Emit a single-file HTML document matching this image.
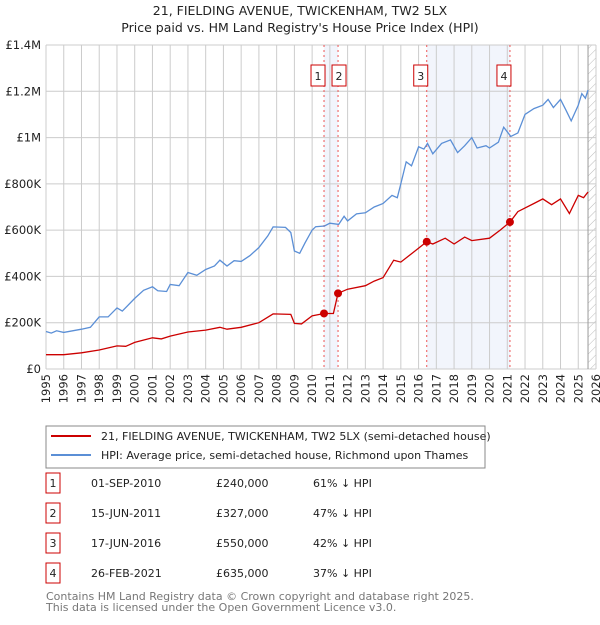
<!DOCTYPE html>
<html><head><meta charset="utf-8"><style>
body{margin:0;background:#fff;font-family:"Liberation Sans","DejaVu Sans",sans-serif;}
svg text{font-family:"DejaVu Sans","Liberation Sans",sans-serif;}
</style></head><body>
<svg width="600" height="620" xmlns="http://www.w3.org/2000/svg">
<defs><pattern id="hatch" width="6" height="6" patternUnits="userSpaceOnUse" patternTransform="rotate(45)"><line x1="0" y1="0" x2="0" y2="6" stroke="#bbb" stroke-width="1"/></pattern></defs>
<text x="300" y="15" text-anchor="middle" font-size="12.5" fill="#222">21, FIELDING AVENUE, TWICKENHAM, TW2 5LX</text>
<text x="300" y="32" text-anchor="middle" font-size="12.5" fill="#222">Price paid vs. HM Land Registry's House Price Index (HPI)</text>
<g id="plot"></g>
<rect x="46" y="426" width="439" height="42" fill="none" stroke="#888"/>
<line x1="51" y1="436" x2="91" y2="436" stroke="#cc0000" stroke-width="2"/>
<text x="101" y="440" font-size="11" fill="#222">21, FIELDING AVENUE, TWICKENHAM, TW2 5LX (semi-detached house)</text>
<line x1="51" y1="455" x2="91" y2="455" stroke="#5b8fd6" stroke-width="2"/>
<text x="101" y="459" font-size="11" fill="#222">HPI: Average price, semi-detached house, Richmond upon Thames</text>
<g id="table"></g>
<text x="46" y="600" font-size="11" fill="#777">Contains HM Land Registry data © Crown copyright and database right 2025.</text>
<text x="46" y="611" font-size="11" fill="#777">This data is licensed under the Open Government Licence v3.0.</text>
</svg>
<script>
const hpiYears=[1995,1995.3,1995.6,1996,1997,1997.5,1998,1998.5,1999,1999.3,2000,2000.5,2001,2001.3,2001.8,2002,2002.5,2003,2003.5,2004,2004.5,2004.8,2005.2,2005.6,2006,2006.5,2007,2007.5,2007.8,2008.5,2008.8,2009,2009.3,2009.6,2010,2010.2,2010.7,2011,2011.5,2011.8,2012,2012.5,2013,2013.5,2014,2014.5,2014.8,2015,2015.3,2015.6,2016,2016.3,2016.5,2016.8,2017.3,2017.8,2018.2,2018.6,2019,2019.3,2019.8,2020,2020.5,2020.8,2021.2,2021.6,2022,2022.5,2023,2023.3,2023.6,2024,2024.3,2024.6,2025,2025.2,2025.4,2025.55];
const hpiValues=[162,155,165,158,172,180,225,225,264,250,305,340,355,338,335,365,360,417,405,430,445,470,445,468,465,490,525,575,614,612,590,510,500,545,600,615,618,630,625,660,640,670,675,700,715,750,740,800,895,878,960,950,975,930,975,990,935,965,1000,955,965,955,980,1045,1005,1020,1100,1125,1140,1165,1130,1165,1120,1072,1140,1190,1170,1205];
const ppYears=[1995,1996,1997,1998,1999,1999.5,2000,2001,2001.5,2002,2003,2004,2004.8,2005.2,2006,2007,2007.8,2008.8,2009,2009.4,2010,2010.67,2011.2,2011.46,2012,2013,2013.5,2014,2014.6,2015,2015.8,2016.46,2016.8,2017.5,2018,2018.6,2019,2020,2020.6,2021.15,2021.6,2022.5,2023,2023.5,2024,2024.5,2025,2025.3,2025.55];
const ppValues=[62,62,70,82,100,98,115,135,130,142,160,168,180,172,180,200,238,236,197,195,230,240,240,327,345,360,380,395,470,462,510,550,540,565,540,570,555,565,600,635,680,715,735,710,735,672,750,740,765];
const saleLabels=["1","2","3","4"];
const saleYears=[2010.67,2011.46,2016.46,2021.15];
const saleValues=[240,327,550,635];
const saleDates=["01-SEP-2010","15-JUN-2011","17-JUN-2016","26-FEB-2021"];
const salePrices=["£240,000","£327,000","£550,000","£635,000"];
const saleDiffs=["61% ↓ HPI","47% ↓ HPI","42% ↓ HPI","37% ↓ HPI"];
const yTicks=[0,200,400,600,800,1000,1200,1400];
const yTickLabels=["£0","£200K","£400K","£600K","£800K","£1M","£1.2M","£1.4M"];
const xStart=1995,xEnd=2026;
const X0=46,X1=596,Y0=369,Y1=45;
const xs=y=>X0+(y-xStart)/(xEnd-xStart)*(X1-X0);
const ys=v=>Y0-v/1400*(Y0-Y1);
const NS="http://www.w3.org/2000/svg";
function mk(parent,tag,attrs){const e=document.createElementNS(NS,tag);for(const k in attrs)e.setAttribute(k,attrs[k]);parent.appendChild(e);return e;}
const g=document.getElementById('plot');
let s1=mk(g,'rect',{x:xs(saleYears[0]),y:Y1,width:xs(saleYears[1])-xs(saleYears[0]),height:Y0-Y1,fill:'#f2f5fc'});


let s2=mk(g,'rect',{x:xs(saleYears[2]),y:Y1,width:xs(saleYears[3])-xs(saleYears[2]),height:Y0-Y1,fill:'#f2f5fc'});


const hatchStart=2025.55;
let h=mk(g,'rect',{x:xs(hatchStart),y:Y1,width:X1-xs(hatchStart),height:Y0-Y1,fill:'url(#hatch)'});


for(let yr=xStart;yr<=xEnd;yr++){
 const x=xs(yr);
 let l=mk(g,'line',{x1:x,y1:Y1,x2:x,y2:Y0,stroke:'#cccccc','stroke-width':1});
 
 
 let t=mk(g,'text',{x:0,y:0,'font-size':11.5,fill:'#222','text-anchor':'end',transform:`translate(${x+4},${Y0+5}) rotate(-90)`});
 t.textContent=String(yr);
 
 
}
yTicks.forEach((v,i)=>{
 const y=ys(v);
 let l=mk(g,'line',{x1:X0,y1:y,x2:X1,y2:y,stroke:'#cccccc','stroke-width':1});
 
 
 let t=mk(g,'text',{x:X0-5,y:y+4,'font-size':11.5,fill:'#222','text-anchor':'end'});
 t.textContent=yTickLabels[i];
 
 
});
let vb=mk(g,'line',{x1:xs(hatchStart),y1:Y1,x2:xs(hatchStart),y2:Y0,stroke:'#999','stroke-width':1});


saleYears.forEach((yr,i)=>{
 const x=xs(yr);
 let l=mk(g,'line',{x1:x,y1:Y1,x2:x,y2:Y0,stroke:'#ee5555','stroke-width':1,'stroke-dasharray':'2,3'});
 
 
 const bx=i==0?x-13:(i==1?x-6:x-13);
 let r=mk(g,'rect',{x:bx,y:65,width:14,height:21,fill:'#fff',stroke:'#cc0000','stroke-width':1});
 
 
 let t=mk(g,'text',{x:bx+7,y:80,'font-size':11,fill:'#222','text-anchor':'middle'});
 t.textContent=saleLabels[i];
 
 
});
function pathOf(xa,va){return xa.map((yr,i)=>(i?'L':'M')+xs(yr).toFixed(1)+','+ys(va[i]).toFixed(1)).join('');}
let hp=mk(g,'path',{d:pathOf(hpiYears,hpiValues),fill:'none',stroke:'#5b8fd6','stroke-width':1.3});


let pp=mk(g,'path',{d:pathOf(ppYears,ppValues),fill:'none',stroke:'#cc0000','stroke-width':1.3});


saleYears.forEach((yr,i)=>{
 let c=mk(g,'circle',{cx:xs(yr),cy:ys(saleValues[i]),r:4,fill:'#cc0000'});
 
 
});
const tg=document.getElementById('table');
saleLabels.forEach((lab,i)=>{
 const y=483+i*30;
 let r=mk(tg,'rect',{x:46,y:y-10,width:14,height:20,fill:'#fff',stroke:'#cc0000'});
 
 
 const cells=[[53,lab,'middle'],[91,saleDates[i],'start'],[216,salePrices[i],'start'],[313,saleDiffs[i],'start']];
 cells.forEach((c,j)=>{
  let t=mk(tg,'text',{x:c[0],y:y+4,'font-size':11,fill:'#222','text-anchor':c[2]});
  t.textContent=c[1];
  
  
 });
});
</script>
</body></html>
